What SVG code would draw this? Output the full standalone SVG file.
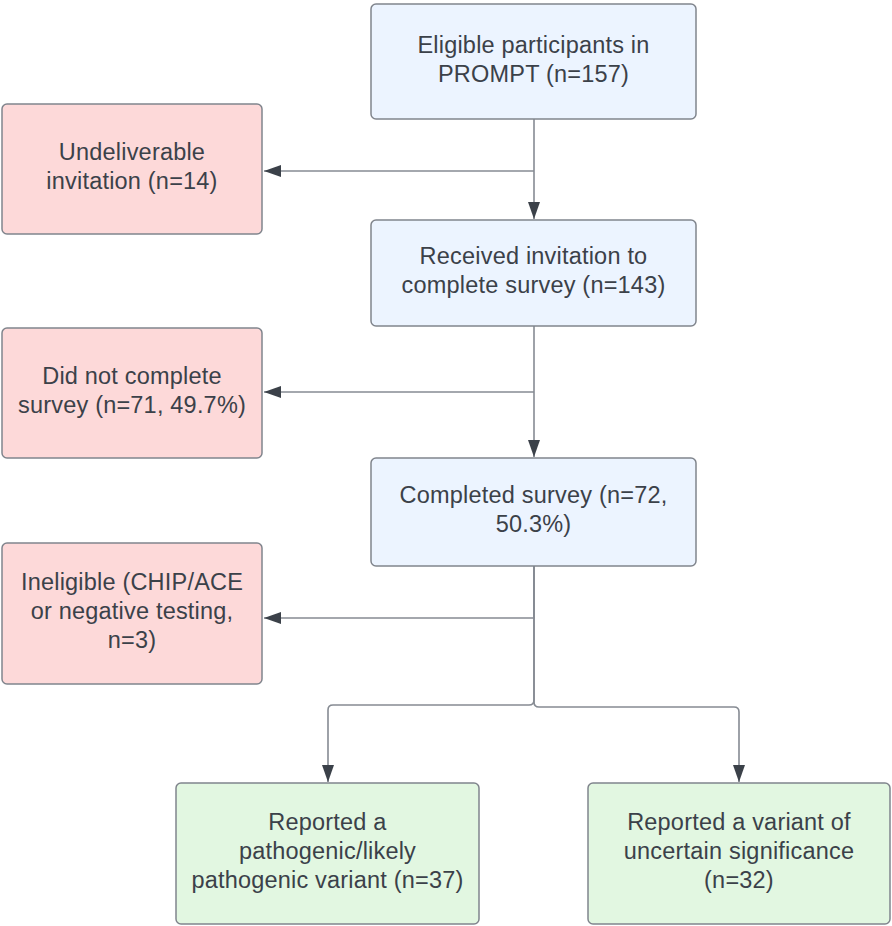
<svg xmlns="http://www.w3.org/2000/svg" width="892" height="926" viewBox="0 0 892 926">
<style>
  .box { stroke: #80858d; stroke-width: 1.5; }
  .blue { fill: #ecf4ff; }
  .red { fill: #fdd9d9; }
  .green { fill: #e2f7e1; }
  text { font-family: "Liberation Sans", Arial, sans-serif; font-size: 23.5px; letter-spacing: 0.2px; fill: #3b4149; text-anchor: middle; }
  .conn { fill: none; stroke: #868b93; stroke-width: 1.6; }
</style>
<defs>
  <marker id="arr" viewBox="0 0 17 12" refX="17" refY="6" markerWidth="17" markerHeight="12" markerUnits="userSpaceOnUse" orient="auto">
    <path d="M0,0 L17,6 L0,12 Z" fill="#3b4149"/>
  </marker>
</defs>
<rect width="892" height="926" fill="#ffffff"/>

<g id="connectors">
  <path class="conn" d="M534,119 V219" marker-end="url(#arr)"/>
  <path class="conn" d="M534,171 H264" marker-end="url(#arr)"/>
  <path class="conn" d="M534,326 V457" marker-end="url(#arr)"/>
  <path class="conn" d="M534,392 H264" marker-end="url(#arr)"/>
  <path class="conn" d="M534,566 V618 H264" marker-end="url(#arr)"/>
  <path class="conn" d="M534,566 V700 Q534,705 529,705 H333 Q328,705 328,710 V782" marker-end="url(#arr)"/>
  <path class="conn" d="M534,566 V702 Q534,707 539,707 H734 Q739,707 739,712 V782" marker-end="url(#arr)"/>
</g>

<g id="node-eligible">
  <rect class="box blue" x="371" y="4" width="325" height="115" rx="5"/>
  <text x="533.5" y="53">Eligible participants in</text>
  <text x="533.5" y="82">PROMPT (n=157)</text>
</g>

<g id="node-undeliverable">
  <rect class="box red" x="2" y="104" width="260" height="130" rx="5"/>
  <text x="132" y="160">Undeliverable</text>
  <text x="132" y="189">invitation (n=14)</text>
</g>

<g id="node-received">
  <rect class="box blue" x="371" y="220" width="325" height="106" rx="5"/>
  <text x="533.5" y="264">Received invitation to</text>
  <text x="533.5" y="293">complete survey (n=143)</text>
</g>

<g id="node-notcomplete">
  <rect class="box red" x="2" y="328" width="260" height="130" rx="5"/>
  <text x="132" y="384">Did not complete</text>
  <text x="132" y="413">survey (n=71, 49.7%)</text>
</g>

<g id="node-completed">
  <rect class="box blue" x="371" y="458" width="325" height="108" rx="5"/>
  <text x="533.5" y="503">Completed survey (n=72,</text>
  <text x="533.5" y="532">50.3%)</text>
</g>

<g id="node-ineligible">
  <rect class="box red" x="2" y="543" width="260" height="141" rx="5"/>
  <text x="132" y="590">Ineligible (CHIP/ACE</text>
  <text x="132" y="619">or negative testing,</text>
  <text x="132" y="648">n=3)</text>
</g>

<g id="node-pathogenic">
  <rect class="box green" x="176" y="783" width="303" height="141" rx="5"/>
  <text x="327.5" y="830">Reported a</text>
  <text x="327.5" y="859">pathogenic/likely</text>
  <text x="327.5" y="888">pathogenic variant (n=37)</text>
</g>

<g id="node-vus">
  <rect class="box green" x="588" y="783" width="302" height="141" rx="5"/>
  <text x="739" y="830">Reported a variant of</text>
  <text x="739" y="859">uncertain significance</text>
  <text x="739" y="888">(n=32)</text>
</g>
</svg>
